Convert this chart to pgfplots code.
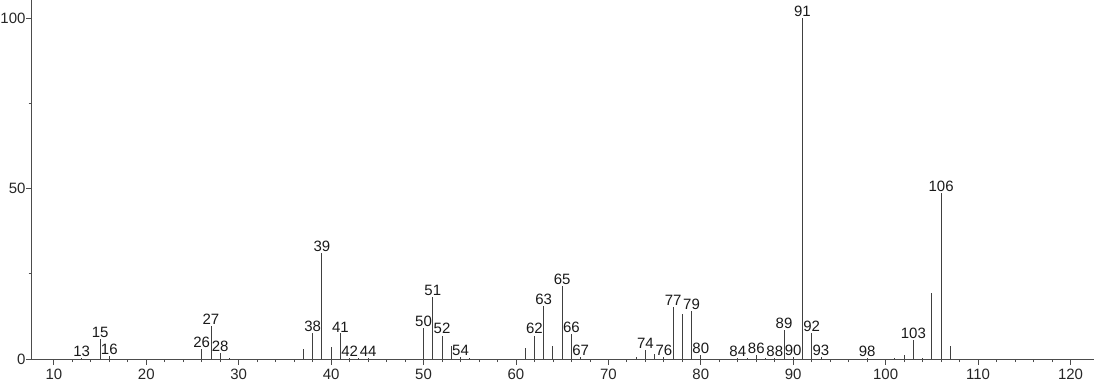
\documentclass[border=0pt]{standalone}
\usepackage{fontspec}
\setmainfont{Liberation Sans}
\usepackage{pgfplots}
\pgfplotsset{compat=1.18}
\usepackage{pgfplotstable}

\pgfplotstableread{
mz int lab
13 0.4 13
15 6.0 15
16 0.8 16
26 2.8 26
27 9.8 27
28 1.7 28
29 0.4 {}
37 2.9 {}
38 7.5 38
39 31.0 39
40 3.4 {}
41 7.5 41
42 0.4 42
43 0.3 {}
44 0.3 44
50 9.2 50
51 18.3 51
52 6.9 52
53 3.8 {}
54 0.6 54
55 0.3 {}
61 3.1 {}
62 6.9 62
63 15.7 63
64 3.8 {}
65 21.4 65
66 7.3 66
67 0.6 67
73 0.6 {}
74 2.6 74
75 1.5 {}
76 0.7 76
77 15.3 77
78 13.1 {}
79 14.1 79
80 1.3 80
84 0.3 84
85 0.3 {}
86 1.1 86
87 0.3 {}
88 0.3 88
89 8.5 89
90 0.5 90
91 100 91
92 7.7 92
93 0.5 93
98 0.3 98
101 0.4 {}
102 1.2 {}
103 5.5 103
104 0.4 {}
105 19.3 {}
106 48.7 106
107 3.9 {}
}\peaks

\begin{document}
\begin{tikzpicture}
\begin{axis}[
  scale only axis,
  width=1063pt, height=359pt,
  xmin=7.6, xmax=122.5, ymin=0, ymax=105.3,
  axis lines=left,
  axis line style={black!70, -, line width=0.8pt},
  xtick={10,20,...,120}, ytick={0,50,100},
  minor x tick num=4, minor y tick num=1,
  tick align=outside,
  tick style={black!70, line width=0.8pt},
  major tick length=5.5pt, minor tick length=3pt,
  tick label style={font=\fontsize{15}{17}\selectfont, text=black!85},
  xticklabel style={inner sep=2pt, yshift=-2pt},
  yticklabel style={inner sep=0.5pt},
  /pgf/number format/assume math mode=true,
  clip=false,
]
\addplot[ycomb, black!75, line width=0.9pt, mark=none] table[x=mz, y=int] {\peaks};
\addplot[draw=none, mark=none, nodes near coords, point meta=explicit symbolic,
  nodes near coords style={font=\fontsize{15}{17}\selectfont, anchor=south, inner sep=1.2pt, text=black!90}]
  table[x=mz, y=int, meta=lab] {\peaks};
\end{axis}
\end{tikzpicture}
\end{document}
